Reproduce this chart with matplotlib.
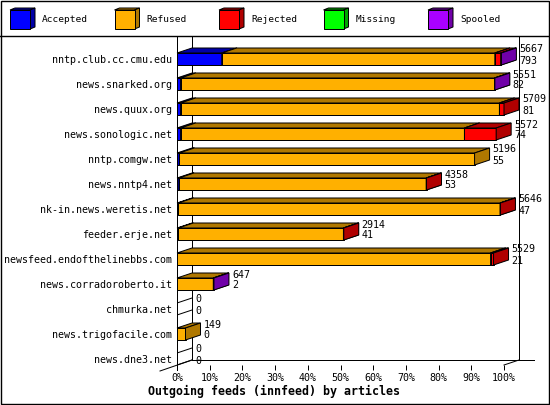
import matplotlib
matplotlib.use("Agg")
import matplotlib.pyplot as plt
from matplotlib.patches import Polygon, Rectangle
import numpy as np

# hosts and their counts (top / bottom label at the end of each bar)
hosts = ["nntp.club.cc.cmu.edu", "news.snarked.org", "news.quux.org",
         "news.sonologic.net", "nntp.comgw.net", "news.nntp4.net",
         "nk-in.news.weretis.net", "feeder.erje.net", "newsfeed.endofthelinebbs.com",
         "news.corradoroberto.it", "chmurka.net", "news.trigofacile.com",
         "news.dne3.net"]
offered = [5667, 5551, 5709, 5572, 5196, 4358, 5646, 2914, 5529, 647, 0, 149, 0]
second = [793, 82, 81, 74, 55, 53, 47, 41, 21, 2, 0, 0, 0]

# segment lengths in % of the axis
accepted = [13.7, 1.1, 1.1, 1.1, 0.7, 0.6, 0.4, 0.4, 0, 0, 0, 0, 0]
refused = [83.5, 96.0, 97.5, 86.8, 90.3, 75.6, 98.4, 50.5, 95.9, 11.1, 0, 2.6, 0]
rejected = [1.8, 0, 1.4, 9.7, 0, 0.1, 0.1, 0.1, 0.9, 0, 0, 0, 0]
missing = [0, 0, 0, 0, 0, 0, 0, 0, 0, 0, 0, 0, 0]
spooled = [0.2, 0.1, 0, 0, 0, 0, 0, 0, 0, 0.2, 0, 0, 0]

series = ["Accepted", "Refused", "Rejected", "Missing", "Spooled"]
values = [accepted, refused, rejected, missing, spooled]
fronts = ["#0000ff", "#ffb000", "#ff0000", "#00ff00", "#aa00ff"]
darks = ["#0000a8", "#b07800", "#b00000", "#00a800", "#7000a8"]

mono = "DejaVu Sans Mono"
LW = 0.72

fig = plt.figure(figsize=(5.5, 4.05), dpi=100)

# background layer in pixel units: border, separator, legend, title
bg = fig.add_axes([0, 0, 1, 1])
bg.set_xlim(0, 550)
bg.set_ylim(405, 0)
bg.axis("off")
bg.add_patch(Rectangle((0.5, 0.5), 548.5, 403.5, fill=False, lw=LW * 1.4, ec="black"))
bg.plot([0, 550], [35.5, 35.5], color="black", lw=LW * 1.4)

for k, name in enumerate(series):
    x0 = 10 + 104.5 * k
    bg.add_patch(Polygon([(x0, 10), (x0 + 5, 8), (x0 + 25, 8), (x0 + 20, 10)],
                         fc=darks[k], ec="black", lw=LW))
    bg.add_patch(Polygon([(x0 + 20, 10), (x0 + 25, 8), (x0 + 25, 27), (x0 + 20, 29)],
                         fc=darks[k], ec="black", lw=LW))
    bg.add_patch(Rectangle((x0, 10), 20, 19, fc=fronts[k], ec="black", lw=LW))
    bg.text(x0 + 32, 19.5, name, fontsize=6.8, family=mono, va="center", ha="left")

bg.text(148, 391.5, "Outgoing feeds (innfeed) by articles", fontsize=8.4,
        family=mono, weight="bold", va="center", ha="left")

# main chart: x in %, y in row index
PX = 327 / 100.0          # pixels per %
DX = 15 / PX              # depth offset in %
DY = 5 / 25.0             # depth offset in rows
H = 12 / 25.0             # bar height in rows
ytop, ybot = (36 - 59) / 25.0, (365 - 59) / 25.0

ax = fig.add_axes([177 / 550, 1 - 365 / 405, 327 / 550, (365 - 36) / 405])
ax.set_facecolor("none")
ax.set_xlim(0, 100)
ax.set_ylim(ybot, ytop)
for s in ax.spines.values():
    s.set_visible(False)

# frame lines (3D walls)
kw = dict(color="black", lw=LW, clip_on=False, zorder=1)
ax.plot([0, 0], [ytop, ybot + 0.2], **kw)
ax.plot([DX, DX], [ytop, ybot - DY], **kw)
ax.plot([100 + DX, 100 + DX], [ytop, ybot - DY], **kw)
ax.plot([DX, (534 - 177) / PX], [ybot - DY, ybot - DY], **kw)
ax.plot([(160 - 177) / PX, DX], [ybot + 0.24, ybot - DY], **kw)
ax.plot([100, 100 + DX], [ybot, ybot - DY], **kw)

rows = np.arange(len(hosts))
left = np.zeros(len(hosts))
for k, vals in enumerate(values):
    vals = np.array(vals, dtype=float)
    z = 3 + k
    show = vals > 0
    bars = ax.barh(rows[show], vals[show], left=left[show], height=H, color=fronts[k],
                   edgecolor="black", linewidth=LW, zorder=z)
    for b in bars:
        b.set_clip_on(False)
    for i in rows[show]:
        x0, w = left[i], vals[i]
        top, bot = i - H / 2, i + H / 2
        ax.add_patch(Polygon([(x0, top), (x0 + DX, top - DY), (x0 + w + DX, top - DY), (x0 + w, top)],
                             fc=darks[k], ec="black", lw=LW, zorder=z, clip_on=False))
        ax.add_patch(Polygon([(x0 + w, top), (x0 + w + DX, top - DY), (x0 + w + DX, bot - DY), (x0 + w, bot)],
                             fc=darks[k], ec="black", lw=LW, zorder=z, clip_on=False))
    left += vals

for i in rows:
    if left[i] == 0:
        top, bot = i - H / 2, i + H / 2
        ax.plot([0, DX], [top, top - DY], color="black", lw=LW, zorder=3)
        ax.plot([0, DX], [bot, bot - DY], color="black", lw=LW, zorder=3)
    xt = left[i] + DX + 0.9
    ax.text(xt, i - 0.38, str(offered[i]), fontsize=7.2, family=mono, va="center", ha="left", zorder=10)
    ax.text(xt, i + 0.06, str(second[i]), fontsize=7.2, family=mono, va="center", ha="left", zorder=10)

ax.set_yticks(rows)
ax.set_yticklabels(hosts, family=mono, fontsize=7.2)
ax.tick_params(axis="y", length=0, pad=3.6)
ax.set_xticks(np.arange(0, 101, 10))
ax.set_xticklabels([f"{t}%" for t in range(0, 101, 10)], family=mono, fontsize=7.2)
ax.tick_params(axis="x", length=3.6, width=LW, direction="out", pad=2.5)

fig.savefig("out.png", dpi=100)
